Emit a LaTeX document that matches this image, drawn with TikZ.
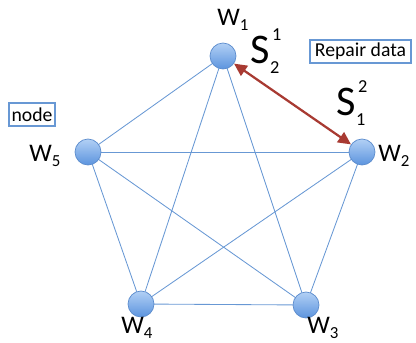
\documentclass[tikz,border=0pt]{standalone}
\usepackage{fontspec}
\setmainfont{Carlito}
\usepackage{tikz}
\usetikzlibrary{arrows.meta, positioning}
\definecolor{edgeblue}{RGB}{104,152,212}
\definecolor{nodeline}{RGB}{92,140,205}
\definecolor{nodetop}{RGB}{178,208,245}
\definecolor{nodebot}{RGB}{92,148,222}
\definecolor{repairred}{RGB}{168,58,50}
\tikzstyle{worker} = [
  circle, draw=nodeline, line width=0.5pt, top color=nodetop, bottom color=nodebot,
  minimum size=26*0.025cm, inner sep=0pt
]
\tikzstyle{wlabel} = [font=\fontsize{18}{20}\selectfont, inner sep=0pt]
\tikzstyle{slabel} = [font=\fontsize{30}{32}\selectfont, inner sep=0pt]
\tikzstyle{tagbox} = [draw=edgeblue, line width=0.8pt, font=\fontsize{14}{16}\selectfont,
  inner sep=0pt, minimum height=23*0.025cm]
\tikzstyle{link} = [draw=edgeblue, line width=0.6pt]
\tikzstyle{repair} = [{Triangle[length=3.2mm, width=3mm]}-{Triangle[length=3.2mm, width=3mm]},
  draw=repairred, line width=1.6pt]
\newcommand{\wname}[1]{W\raisebox{-0.22em}{\fontsize{12}{13}\selectfont #1}}
\newcommand{\sname}[2]{S\rlap{\kern0.05em\raisebox{0.55em}{\fontsize{13}{14}\selectfont #1}}%
  \raisebox{-0.22em}{\fontsize{13}{14}\selectfont #2}}

\begin{document}
\begin{tikzpicture}[x=0.025cm, y=-0.025cm]
  \useasboundingbox (0, 0) rectangle (416, 343);

  % links of the full graph
  \coordinate (c1) at (223, 56);
  \coordinate (c2) at (362, 152);
  \coordinate (c3) at (306, 305);
  \coordinate (c4) at (141, 304);
  \coordinate (c5) at (88, 152);
  \foreach \a/\b in {1/3, 1/4, 1/5, 2/3, 2/4, 2/5, 3/4, 3/5, 4/5}
    \draw[link] (c\a) -- (c\b);

  \node[worker] (w1) at (c1) {};
  \node[worker] (w2) at (c2) {};
  \node[worker] (w3) at (c3) {};
  \node[worker] (w4) at (c4) {};
  \node[worker] (w5) at (c5) {};

  \node[wlabel] (lw1) at (233, 20) {\wname{1}};
  \node[wlabel] (lw2) at (394, 156) {\wname{2}};
  \node[wlabel] (lw3) at (323, 328) {\wname{3}};
  \node[wlabel] (lw4) at (137, 328) {\wname{4}};
  \node[wlabel] (lw5) at (45, 156) {\wname{5}};

  \node[slabel] (s21) at (265, 51) {\sname{1}{2}};
  \node[slabel] (s12) at (351, 103) {\sname{2}{1}};

  \draw[repair] (w1) -- (w2);

  \node[tagbox, minimum width=101*0.025cm] (repairtag) at (360.5, 51.5) {Repair data};
  \node[tagbox, minimum width=46*0.025cm] (nodetag) at (32, 114.5) {node};

\end{tikzpicture}
\end{document}
